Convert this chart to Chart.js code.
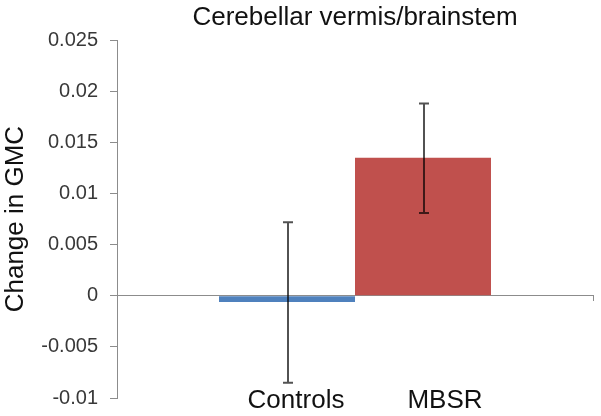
<!DOCTYPE html>
<html>
<head>
<meta charset="utf-8">
<script src="https://cdn.jsdelivr.net/npm/chart.js@4"></script>
<style>
    html, body { margin: 0; padding: 0; background: #fff; }
    #wrap { width: 601px; height: 416px; position: relative; }
</style>
</head>
<body>
<div id="wrap"><canvas id="gmcChart"></canvas></div>
<script>
// Data
const groups = ['Controls', 'MBSR'];
const meanChange = [-0.0006, 0.0135];
const errLow = [-0.0085, 0.0081];
const errHigh = [0.0072, 0.0188];
const barColors = ['#4F81BD', '#C0504D'];

const FONT = 'Liberation Sans, Arial, sans-serif';

// Error bars drawn through the y scale
const errorBars = {
    id: 'errorBars',
    afterDatasetsDraw(chart) {
        const c = chart.ctx;
        const yScale = chart.scales.y;
        c.save();
        c.strokeStyle = 'rgba(0,0,0,0.68)';
        c.lineWidth = 2;
        chart.data.datasets.forEach((ds, i) => {
            const bar = chart.getDatasetMeta(i).data[0];
            const x = bar.x + 1;
            const yTop = yScale.getPixelForValue(errHigh[i]);
            const yBot = yScale.getPixelForValue(errLow[i]);
            c.beginPath();
            c.moveTo(x, yTop); c.lineTo(x, yBot);
            c.moveTo(x - 5, yTop); c.lineTo(x + 5, yTop);
            c.moveTo(x - 5, yBot); c.lineTo(x + 5, yBot);
            c.stroke();
        });
        c.restore();
    }
};

// Group names written under the plot, one per bar
const groupLabels = {
    id: 'groupLabels',
    afterDraw(chart) {
        const c = chart.ctx;
        const shift = [9, 22];
        c.save();
        c.font = '26px ' + FONT;
        c.fillStyle = '#111';
        c.textAlign = 'center';
        c.textBaseline = 'alphabetic';
        chart.data.datasets.forEach((ds, i) => {
            const bar = chart.getDatasetMeta(i).data[0];
            c.fillText(ds.label, bar.x + shift[i], chart.chartArea.bottom + 10);
        });
        c.restore();
    }
};

const ctx = document.getElementById('gmcChart').getContext('2d');
new Chart(ctx, {
    type: 'bar',
    data: {
        labels: [''],
        datasets: groups.map((g, i) => ({
            label: g,
            data: [meanChange[i]],
            backgroundColor: barColors[i],
            borderWidth: 0,
            categoryPercentage: 0.5714,
            barPercentage: 1
        }))
    },
    options: {
        responsive: true,
        maintainAspectRatio: false,
        animation: false,
        layout: { padding: { left: 0, right: 8, top: 0, bottom: 18 } },
        plugins: {
            legend: { display: false },
            tooltip: { enabled: false },
            title: {
                display: true,
                text: 'Cerebellar vermis/brainstem',
                fullSize: false,
                color: '#111',
                font: { family: FONT, size: 26, weight: 'normal' },
                padding: { top: 2, bottom: 7 }
            }
        },
        scales: {
            x: {
                position: { y: 0 },
                offset: true,
                afterFit(scale) { scale.height = 0; },
                border: { color: '#8c8c8c', width: 1 },
                grid: {
                    drawOnChartArea: false,
                    drawTicks: true,
                    tickLength: 5,
                    color: '#8c8c8c'
                },
                ticks: { display: false }
            },
            y: {
                min: -0.01,
                max: 0.025,
                afterFit(scale) {
                    scale.width = 117;
                    scale.paddingTop = 0;
                    scale.paddingBottom = 0;
                },
                border: { color: '#8c8c8c', width: 1 },
                grid: {
                    drawOnChartArea: false,
                    tickLength: 7,
                    color: '#8c8c8c'
                },
                ticks: {
                    stepSize: 0.005,
                    padding: 12,
                    color: '#383838',
                    font: { family: FONT, size: 20 },
                    callback: v => parseFloat(v.toFixed(3)).toString()
                },
                title: {
                    display: true,
                    text: 'Change in GMC',
                    color: '#111',
                    font: { family: FONT, size: 26 },
                    padding: { top: 0, bottom: 0 }
                }
            }
        }
    },
    plugins: [errorBars, groupLabels]
});
</script>
</body>
</html>
